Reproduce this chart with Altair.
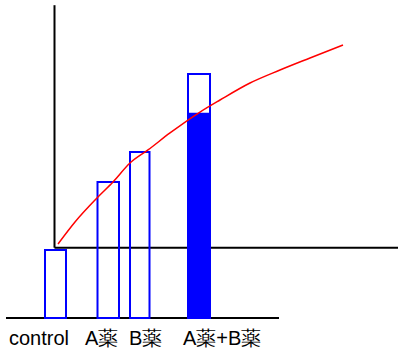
import altair as alt
import pandas as pd

# Bars (x in position units, y in effect units)
bar_names = ["control", "A薬", "B薬", "A薬+B薬"]
bar_x0 = [4.5, 9.75, 13.0, 18.8]
bar_x1 = [6.6, 11.9, 14.95, 21.0]
bar_val = [1.0, 2.0, 2.44, 3.59]

# Filled part of the combined bar
fill_x0 = [18.7]
fill_x1 = [21.1]
fill_val = [3.02]

# Labels
label_text = ["control", "A薬", "B薬", "A薬+B薬"]
label_x = [0.9, 8.5, 12.9, 18.3]
label_y = [-0.404, -0.404, -0.404, -0.404]

# Red curve
curve_x = [5.8, 7.5, 9.7, 11.3, 13.0, 14.8, 17.0, 20.0, 22.0, 25.0, 28.0, 31.0, 34.3]
curve_y = [1.088, 1.412, 1.765, 2.0, 2.279, 2.471, 2.721, 3.029, 3.206, 3.456, 3.647, 3.824, 4.015]

# Black axis lines
line_x0 = [5.45, 5.45, 0.6]
line_x1 = [5.45, 39.8, 27.9]
line_y0 = [1.034, 1.034, 0.0]
line_y1 = [4.6, 1.034, 0.0]

xs = alt.Scale(domain=[0, 39.8], nice=False, zero=False)
ys = alt.Scale(domain=[-36 / 68, 318 / 68], nice=False, zero=False)

bars = pd.DataFrame({"name": bar_names, "x0": bar_x0, "x1": bar_x1, "v": bar_val, "b": [0.0] * 4})
fills = pd.DataFrame({"x0": fill_x0, "x1": fill_x1, "v": fill_val, "b": [0.0]})
labels = pd.DataFrame({"t": label_text, "x": label_x, "y": label_y})
curve = pd.DataFrame({"x": curve_x, "y": curve_y})
lines = pd.DataFrame({"x0": line_x0, "x1": line_x1, "y0": line_y0, "y1": line_y1})

rule_layer = alt.Chart(lines).mark_rule(color="black", strokeWidth=2).encode(
    x=alt.X("x0:Q", scale=xs, axis=None),
    x2="x1:Q",
    y=alt.Y("y0:Q", scale=ys, axis=None),
    y2="y1:Q",
)

fill_layer = alt.Chart(fills).mark_rect(color="#0000FF").encode(
    x=alt.X("x0:Q", scale=xs, axis=None),
    x2="x1:Q",
    y=alt.Y("b:Q", scale=ys, axis=None),
    y2="v:Q",
)

bar_layer = alt.Chart(bars).mark_rect(fill=None, stroke="#0000FF", strokeWidth=2).encode(
    x=alt.X("x0:Q", scale=xs, axis=None),
    x2="x1:Q",
    y=alt.Y("b:Q", scale=ys, axis=None),
    y2="v:Q",
)

curve_layer = alt.Chart(curve).mark_line(color="red", strokeWidth=1.5, interpolate="monotone").encode(
    x=alt.X("x:Q", scale=xs, axis=None),
    y=alt.Y("y:Q", scale=ys, axis=None),
)

text_layer = alt.Chart(labels).mark_text(
    align="left", baseline="alphabetic", fontSize=20, font="Liberation Sans", color="black"
).encode(
    x=alt.X("x:Q", scale=xs, axis=None),
    y=alt.Y("y:Q", scale=ys, axis=None),
    text="t:N",
)

chart = alt.layer(rule_layer, fill_layer, bar_layer, curve_layer, text_layer).properties(
    width=398, height=354, autosize=alt.AutoSizeParams(type="none"), padding=0
).configure_view(stroke=None)

chart.save("out.html", embed_options={"renderer": "svg", "actions": False})
